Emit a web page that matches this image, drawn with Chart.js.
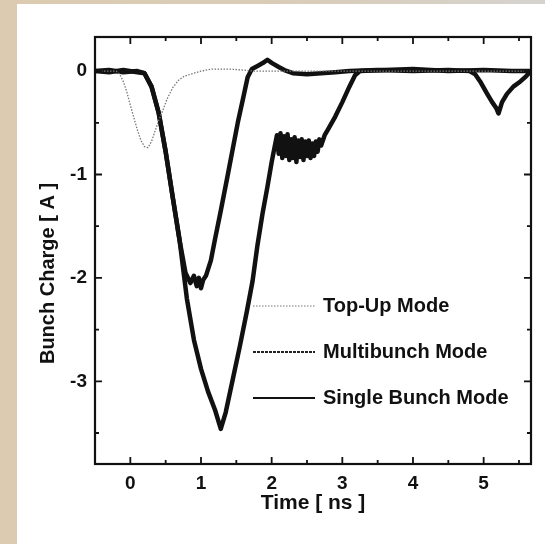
<!DOCTYPE html>
<html>
<head>
<meta charset="utf-8">
<script src="https://cdn.jsdelivr.net/npm/chart.js@4.4.1/dist/chart.umd.min.js"></script>
<style>
  html, body { margin: 0; padding: 0; }
  body {
    width: 545px;
    height: 544px;
    overflow: hidden;
    background: linear-gradient(to right, #dccbb0 0%, #d9ccb8 55%, #d5d3cf 100%);
    position: relative;
  }
  #frame {
    position: absolute;
    left: 17px;
    top: 4px;
    width: 528px;
    height: 540px;
    background: #fff;
  }
</style>
</head>
<body>
<div id="frame"><canvas id="chargeChart" width="528" height="540"></canvas></div>
<script>
// values (time in ns, charge in A)
const singleTime = [-0.5, -0.3, -0.1, 0.1, 0.2, 0.3, 0.4, 0.5, 0.6, 0.7, 0.8, 0.9, 1.0, 1.1, 1.2, 1.28,
  1.35, 1.45, 1.55, 1.65, 1.73, 1.8, 1.87, 1.94, 2.0, 2.04,
  2.075, 2.1, 2.125, 2.15, 2.175, 2.2, 2.225, 2.25, 2.275, 2.3, 2.325, 2.35, 2.375, 2.4,
  2.425, 2.45, 2.475, 2.5, 2.525, 2.55, 2.575, 2.6, 2.625, 2.65, 2.675, 2.7,
  2.75, 2.8, 2.9, 3.0, 3.1, 3.18, 3.25, 3.6, 4.0, 4.5, 5.0, 5.4, 5.67];
const singleCharge = [0.0, 0.01, -0.01, 0.0, -0.02, -0.15, -0.40, -0.78, -1.22, -1.65, -2.20, -2.60, -2.88, -3.10, -3.28, -3.46,
  -3.30, -2.98, -2.66, -2.32, -2.03, -1.68, -1.38, -1.12, -0.88, -0.74,
  -0.62, -0.80, -0.60, -0.84, -0.63, -0.82, -0.61, -0.86, -0.66, -0.84, -0.64, -0.88, -0.67, -0.83,
  -0.66, -0.86, -0.68, -0.82, -0.67, -0.84, -0.70, -0.82, -0.68, -0.78, -0.66, -0.72,
  -0.62, -0.56, -0.44, -0.30, -0.15, -0.04, 0.0, 0.01, 0.02, 0.0, 0.01, 0.0, 0.0];

const multiTime = [-0.5, -0.3, -0.1, 0.1, 0.2, 0.3, 0.4, 0.5, 0.6, 0.7, 0.78, 0.85, 0.9, 0.94, 0.97, 1.0, 1.03, 1.07,
  1.14, 1.2, 1.28, 1.38, 1.45, 1.52, 1.6, 1.66, 1.72, 1.8, 1.88, 1.94, 2.0, 2.1, 2.18, 2.3, 2.5, 2.7, 2.9,
  3.1, 3.5, 4.0, 4.5, 4.8, 4.88, 4.95, 5.05, 5.12, 5.18, 5.21, 5.26, 5.33, 5.42, 5.52, 5.6, 5.67];
const multiCharge = [0.0, -0.01, 0.01, -0.01, -0.02, -0.15, -0.40, -0.78, -1.22, -1.65, -1.95, -2.05, -1.98, -2.08, -2.00, -2.10, -2.02, -1.98,
  -1.83, -1.62, -1.35, -1.00, -0.75, -0.50, -0.25, -0.06, 0.02, 0.05, 0.08, 0.11, 0.08, 0.04, 0.01, -0.02, -0.03, -0.02, -0.01,
  0.0, 0.01, 0.0, 0.01, 0.0, -0.03, -0.10, -0.22, -0.30, -0.36, -0.41, -0.30, -0.22, -0.15, -0.10, -0.05, 0.0];

const topUpTime = [-0.5, -0.2, -0.15, -0.1, -0.05, 0.0, 0.05, 0.1, 0.15, 0.2, 0.25, 0.3, 0.35, 0.4, 0.46, 0.52,
  0.6, 0.68, 0.76, 0.9, 1.0, 1.15, 1.4, 1.6, 1.75, 2.0, 5.67];
const topUpCharge = [0.0, 0.0, -0.03, -0.10, -0.20, -0.33, -0.45, -0.57, -0.67, -0.73, -0.74, -0.68, -0.58, -0.48, -0.38, -0.27,
  -0.16, -0.09, -0.05, -0.02, 0.0, 0.02, 0.02, 0.01, 0.0, 0.0, 0.0];

const xTicks = [0, 1, 2, 3, 4, 5];
const yTicks = [0, -1, -2, -3];
const legendLabels = ['Top-Up Mode', 'Multibunch Mode', 'Single Bunch Mode'];

const fontFamily = '"Liberation Sans", Arial, Helvetica, sans-serif';

function toPoints(times, values) {
  return times.map((t, i) => ({ x: t, y: values[i] }));
}

// inward tick marks on all four sides, plus the closed frame
const frameTicks = {
  id: 'frameTicks',
  afterDraw(chart) {
    const { ctx, chartArea: area, scales } = chart;
    ctx.save();
    ctx.strokeStyle = '#111';
    ctx.lineWidth = 1.8;
    scales.x.ticks.forEach((tick) => {
      const px = scales.x.getPixelForValue(tick.value);
      const len = xTicks.includes(tick.value) ? 7 : 4;
      ctx.beginPath();
      ctx.moveTo(px, area.bottom);
      ctx.lineTo(px, area.bottom - len);
      ctx.moveTo(px, area.top);
      ctx.lineTo(px, area.top + len);
      ctx.stroke();
    });
    scales.y.ticks.forEach((tick) => {
      const py = scales.y.getPixelForValue(tick.value);
      const len = yTicks.includes(tick.value) ? 7 : 4;
      ctx.beginPath();
      ctx.moveTo(area.left, py);
      ctx.lineTo(area.left + len, py);
      ctx.moveTo(area.right, py);
      ctx.lineTo(area.right - len, py);
      ctx.stroke();
    });
    ctx.lineWidth = 2.2;
    ctx.strokeRect(area.left, area.top, area.right - area.left, area.bottom - area.top);

    // y axis title, sits a little below the middle of the axis in the original
    ctx.fillStyle = '#111';
    ctx.font = `bold 20px ${fontFamily}`;
    ctx.textAlign = 'center';
    ctx.textBaseline = 'middle';
    ctx.translate(31, (area.top + area.bottom) / 2 + 23);
    ctx.rotate(-Math.PI / 2);
    ctx.fillText('Bunch Charge [ A ]', 0, 0);
    ctx.restore();
  },
};

// legend drawn inside the plot, thin sample lines like the print
const insideLegend = {
  id: 'insideLegend',
  afterDraw(chart) {
    const { ctx, chartArea: area } = chart;
    const styles = [
      { color: '#777', width: 1.2, dash: [1.5, 1.5] },
      { color: '#222', width: 2, dash: [3, 1] },
      { color: '#111', width: 2, dash: [] },
    ];
    ctx.save();
    ctx.font = `bold 20px ${fontFamily}`;
    ctx.textBaseline = 'middle';
    ctx.fillStyle = '#111';
    legendLabels.forEach((label, i) => {
      const y = area.top + 269 + i * 46;
      const s = styles[i];
      ctx.strokeStyle = s.color;
      ctx.lineWidth = s.width;
      ctx.setLineDash(s.dash);
      ctx.beginPath();
      ctx.moveTo(area.left + 158, y);
      ctx.lineTo(area.left + 220, y);
      ctx.stroke();
      ctx.fillText(label, area.left + 228, y);
    });
    ctx.restore();
  },
};

function buildChart() {
  const ctx = document.getElementById('chargeChart');
  const tickFont = { family: fontFamily, size: 19, weight: 'bold' };

  new Chart(ctx, {
    type: 'line',
    data: {
      datasets: [
        {
          label: legendLabels[0],
          data: toPoints(topUpTime, topUpCharge),
          borderColor: '#777',
          borderWidth: 1.3,
          borderDash: [1.5, 1.5],
        },
        {
          label: legendLabels[1],
          data: toPoints(multiTime, multiCharge),
          borderColor: '#111',
          borderWidth: 4.5,
        },
        {
          label: legendLabels[2],
          data: toPoints(singleTime, singleCharge),
          borderColor: '#111',
          borderWidth: 4.5,
        },
      ],
    },
    options: {
      responsive: false,
      animation: false,
      layout: { padding: { left: 0, top: 33, right: 14, bottom: 0 } },
      elements: {
        point: { radius: 0 },
        line: { tension: 0, fill: false, borderJoinStyle: 'round' },
      },
      scales: {
        x: {
          type: 'linear',
          min: -0.5,
          max: 5.67,
          grid: { display: false, drawTicks: false },
          border: { display: false },
          ticks: {
            stepSize: 0.5,
            includeBounds: false,
            autoSkip: false,
            maxRotation: 0,
            padding: 8,
            color: '#111',
            font: tickFont,
            callback: (v) => (xTicks.includes(v) ? String(v) : ''),
          },
          title: {
            display: true,
            text: 'Time [ ns ]',
            color: '#111',
            font: { family: fontFamily, size: 21, weight: 'bold' },
            padding: { top: 0, bottom: 28 },
          },
          afterFit: (scale) => { scale.height = 80; },
        },
        y: {
          type: 'linear',
          min: -3.8,
          max: 0.33,
          grid: { display: false, drawTicks: false },
          border: { display: false },
          ticks: {
            stepSize: 0.5,
            includeBounds: false,
            autoSkip: false,
            padding: 8,
            color: '#111',
            font: tickFont,
            callback: (v) => (yTicks.includes(v) ? String(v) : ''),
          },
          afterFit: (scale) => { scale.width = 78; },
        },
      },
      plugins: {
        legend: { display: false },
        tooltip: { enabled: false },
      },
    },
    plugins: [frameTicks, insideLegend],
  });
}

document.addEventListener('DOMContentLoaded', buildChart);
</script>
</body>
</html>
